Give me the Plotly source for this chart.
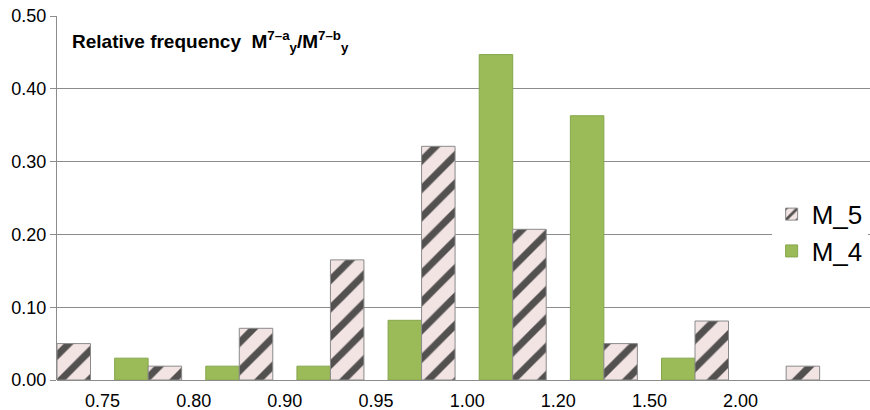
import plotly.graph_objects as go

# Histogram bins (index 0 = below 0.75, index 8 = above 2.00); tick labels sit on bin boundaries
bin_edges = ["0.75", "0.80", "0.90", "0.95", "1.00", "1.20", "1.50", "2.00"]
bin_index = list(range(9))
m4_values = [None, 0.03, 0.019, 0.019, 0.082, 0.447, 0.363, 0.03, None]
m5_values = [0.05, 0.019, 0.071, 0.165, 0.321, 0.207, 0.05, 0.081, 0.019]
y_ticks = [0.0, 0.1, 0.2, 0.3, 0.4, 0.5]

FONT = "Liberation Sans, Arial, Helvetica, sans-serif"
GRID = "#8c8c8c"

fig = go.Figure()
fig.add_trace(go.Bar(
    x=bin_index, y=m4_values, name="M_4", legendrank=2,
    marker=dict(color="#9bbb59", line=dict(color="#86a64a", width=1)),
))
fig.add_trace(go.Bar(
    x=bin_index, y=m5_values, name="M_5", legendrank=1,
    marker=dict(
        color="#f4eeee",
        line=dict(color="#8a8a8a", width=1),
        pattern=dict(shape="/", fgcolor="#2a2a2a", fgopacity=0.8,
                     bgcolor="#f3e4e4", size=20, solidity=0.35),
    ),
))

fig.add_annotation(
    xref="paper", yref="paper", x=0.016, y=0.93,
    xanchor="left", yanchor="middle", showarrow=False,
    text="<b>Relative frequency  M<sup>7\u2013a</sup><sub>y</sub>/M<sup>7\u2013b</sup><sub>y</sub></b>",
    font=dict(family=FONT, size=19, color="black"),
)

fig.update_layout(
    width=870, height=410,
    margin=dict(l=57, r=0, t=16, b=30),
    paper_bgcolor="white", plot_bgcolor="white",
    barmode="group", bargap=0.265, bargroupgap=0,
    font=dict(family=FONT, size=18, color="black"),
    showlegend=True,
    legend=dict(
        x=0.879, y=0.52, xanchor="left", yanchor="top",
        traceorder="normal", tracegroupgap=0,
        font=dict(family=FONT, size=26, color="black"),
        bgcolor="white", borderwidth=0,
    ),
    xaxis=dict(
        range=[0, 8.92], tickmode="array",
        tickvals=[i + 0.5 for i in range(len(bin_edges))], ticktext=bin_edges,
        showgrid=False, zeroline=False, showline=False, ticks="",
        ticklabelstandoff=8,
        tickfont=dict(family=FONT, size=18, color="black"),
    ),
    yaxis=dict(
        range=[0, 0.5], tickmode="array", tickvals=y_ticks,
        ticktext=[f"{v:.2f}" for v in y_ticks],
        showgrid=True, gridcolor=GRID, gridwidth=1,
        showline=True, linecolor=GRID, linewidth=1,
        ticks="outside", ticklen=6, tickcolor=GRID,
        zeroline=True, zerolinecolor=GRID, zerolinewidth=1,
        tickfont=dict(family=FONT, size=18, color="black"),
    ),
)

fig.write_html("out.html")
